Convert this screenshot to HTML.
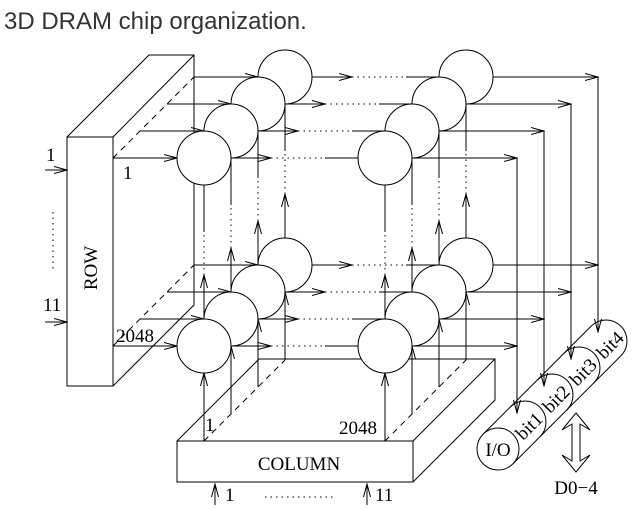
<!DOCTYPE html>
<html><head><meta charset="utf-8">
<style>
html,body{margin:0;padding:0;background:#fff;}
svg{display:block;}
.t{font-family:"Liberation Serif",serif;font-size:19px;fill:#000;}
</style></head>
<body>
<svg id="s" width="635" height="510" viewBox="0 0 635 510" xmlns="http://www.w3.org/2000/svg">
<defs>
<marker id="a" markerWidth="14" markerHeight="10" refX="13" refY="5" orient="auto" markerUnits="userSpaceOnUse">
<path d="M0,1.5 L13,5 L0,8.5" fill="none" stroke="#000" stroke-width="1"/>
</marker>
</defs>
<text x="4" y="29" style="font-family:'Liberation Sans',sans-serif;font-size:24px;fill:#333">3D DRAM chip organization.</text>
<g id="g" stroke="#000" stroke-width="1" fill="none"></g>
<g id="c" stroke="#000" stroke-width="1" fill="#fff"></g>
<g id="tx"></g>
</svg>
<script>
var NS="http://www.w3.org/2000/svg";
var g=document.getElementById('g'),c=document.getElementById('c'),tx=document.getElementById('tx');
function el(p,n,a){var e=document.createElementNS(NS,n);for(var k in a)e.setAttribute(k,a[k]);p.appendChild(e);return e;}
function L(x1,y1,x2,y2,o){var a={x1:x1,y1:y1,x2:x2,y2:y2};if(o=='arr')a['marker-end']='url(#a)';if(o=='dot')a['stroke-dasharray']='1.5,4';if(o=='dash')a['stroke-dasharray']='6,5';el(g,'line',a);}
function P(d,f){el(g,'path',{d:d,fill:f||'none'});}
function T(x,y,s,extra){var e=el(tx,'text',{x:x,y:y,'class':'t'});e.textContent=s;if(extra)for(var k in extra)e.setAttribute(k,extra[k]);return e;}
P('M67,137 L149,55 L194,55 L194,305 L113,386 L67,386 Z M67,137 L113,137 L113,386 M113,137 L194,55');
L(113,158,194,77,'dash');L(113,346,194,265,'dash');
P('M177,441 L259,359 L495,359 L495,400 L413,482 L177,482 Z M177,441 L413,441 L413,482 M413,441 L495,359');
L(204,441,285,360,'dash');L(385,441,466,360,'dash');
[0,188].forEach(function(yo){
 for(var i=0;i<4;i++){
  var y=158-27*i+yo, lc=204+27*i, rc=385+27*i, sx=113+27*i, vx=517+27*i;
  L(sx,y,lc-27,y,'arr');
  L(lc+27,y,lc+67,y,'arr');
  L(lc+67,y,rc-60,y,'dot');
  L(rc-60,y,rc-27,y);
  L(rc+27,y,vx,y,'arr');
 }
});
for(var i=0;i<4;i++){var vx=517+27*i;L(vx,158-27*i,vx,413-27*i,'arr');}
[204,385].forEach(function(x0){
 for(var i=0;i<4;i++){
  var x=x0+27*i;
  L(x,441-27*i,x,373-27*i,'arr');
  var bt=319-27*i, tb=185-27*i;
  L(x,bt,x,bt-44,'arr');
  L(x,bt-44,x,tb+47,'dot');
  L(x,tb+47,x,tb);
 }
});
for(var i=3;i>=0;i--){
 [0,188].forEach(function(yo){
  el(c,'circle',{cx:204+27*i,cy:158-27*i+yo,r:27});
  el(c,'circle',{cx:385+27*i,cy:158-27*i+yo,r:27});
 });
}
var k=14.85;
L(498-k,449-k,606-k,341-k);L(498+k,449+k,606+k,341+k);
el(c,'circle',{cx:498,cy:449,r:21});
for(var j=1;j<=4;j++){var cx=498+27*j,cy=449-27*j;P('M'+(cx-k)+','+(cy-k)+' A21,21 0 0 1 '+(cx+k)+','+(cy+k));}
P('M576,413 L590,430 L580,424 L580,461 L590,455 L576,472 L562,455 L572,461 L572,424 L562,430 Z','#fff');
L(45,170,67,170,'arr');L(45,322,67,322,'arr');
L(53,212,53,272,'dot');
L(215,505,215,484,'arr');L(367,505,367,484,'arr');
L(265,497,335,497,'dot');
T(46,161,'1');T(43,311,'11');T(123,179,'1');T(116,342,'2048');
T(97,268,'ROW',{transform:'rotate(-90 97 268)','text-anchor':'middle'});
T(205,431,'1');T(339,434,'2048');
T(299,470,'COLUMN',{'text-anchor':'middle','font-size':'18'});
T(225,501,'1');T(375,501,'11');
T(498,456,'I/O',{'text-anchor':'middle','font-size':'17'});
for(var j=0;j<4;j++){var x=530+27*j,y=427-27*j;T(x,y+5,'bit'+(j+1),{'text-anchor':'middle','font-size':'17',transform:'rotate(-45 '+x+' '+y+')'});}
T(576,494,'D0\u22124',{'text-anchor':'middle','font-size':'17'});
</script>
</body></html>
